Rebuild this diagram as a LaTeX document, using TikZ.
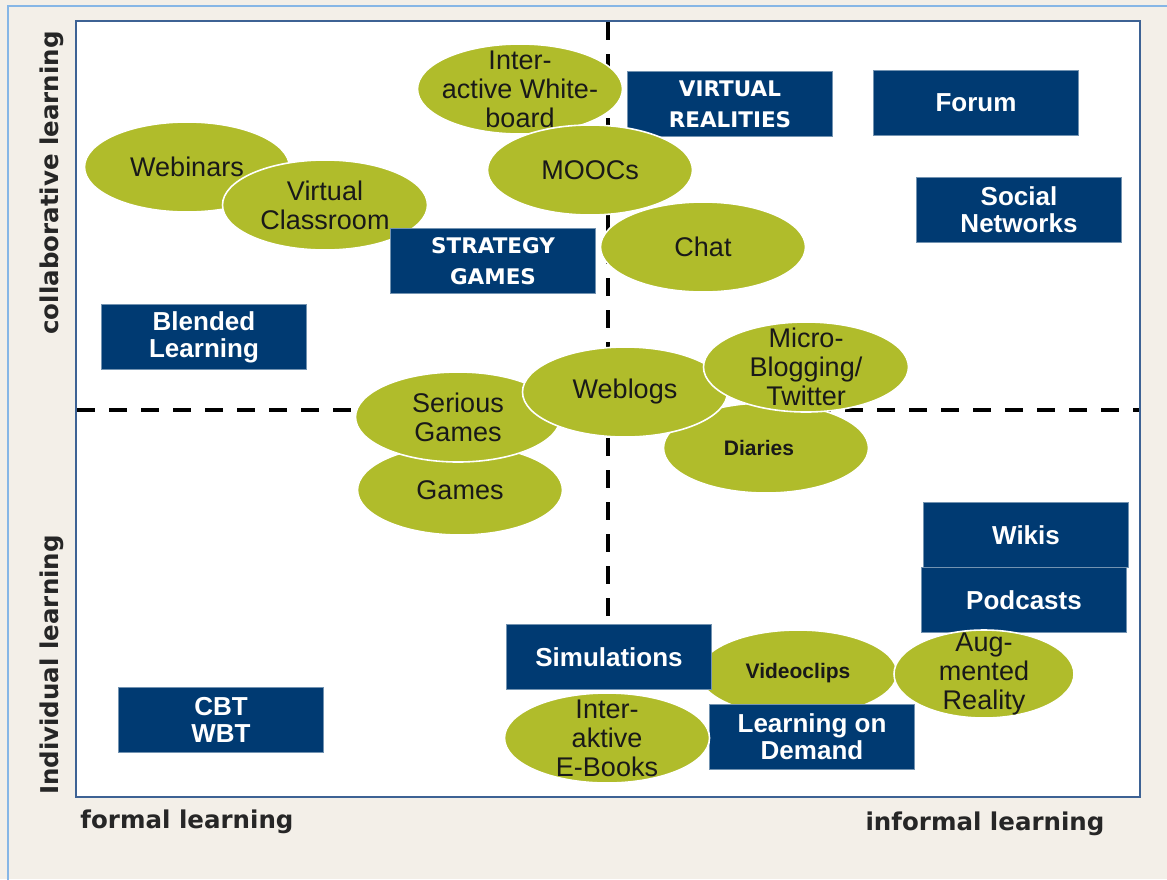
\documentclass[tikz,border=0pt]{standalone}
\usepackage{fontspec}
\setmainfont{Liberation Sans}
\newfontfamily\axisfont{DejaVu Sans}
\newfontfamily\capsfont{DejaVu Sans}
\usepackage{xcolor}
\usepackage{tikz}
\usetikzlibrary{shapes.geometric}

\definecolor{paper}{HTML}{F3EFE8}
\definecolor{rimblue}{HTML}{86B6E6}
\definecolor{framblue}{HTML}{3D6294}
\definecolor{navy}{HTML}{003A72}
\definecolor{olive}{HTML}{B0BC2B}

\tikzset{
	tool/.style={
		ellipse,
		fill=olive,
		draw=white,
		line width=1.6pt,
		minimum width=205pt,
		minimum height=90pt,
		inner sep=0pt,
		align=center,
		text=black!90,
		font=\fontsize{27}{29}\selectfont
	},
	tall/.style={
		inner xsep=-12pt,
		inner ysep=-16pt
	},
	medium/.style={
		rectangle,
		fill=navy,
		draw=navy!55!white,
		line width=0.8pt,
		minimum width=205pt,
		minimum height=65pt,
		inner sep=0pt,
		align=center,
		text=white,
		font=\bfseries\fontsize{26}{27}\selectfont
	},
	capsmedium/.style={
		medium,
		font=\capsfont\bfseries\fontsize{21.5}{31}\selectfont
	},
	axislabel/.style={
		font=\axisfont\bfseries\fontsize{24.5}{28}\selectfont,
		text=black!85
	},
	quadrant/.style={
		black,
		line width=3.5pt,
		dash pattern=on 18pt off 14pt
	}
}

\begin{document}
\begin{tikzpicture}[x=1pt,y=-1pt]
		
		% sheet and frames
		\useasboundingbox (0,0) rectangle (1167,879);
		\fill[paper] (0,0) rectangle (1167,879);
		\draw[rimblue,line width=2pt] (8,895) |- (1190,6);
		\draw[framblue,line width=2.5pt,fill=white] (76,21) rectangle (1140,797);
		
		% quadrant axes
		\coordinate (L) at (77,410);
		\coordinate (R) at (1139,410);
		\coordinate (T) at (608,22);
		\coordinate (B) at (608,625);
		\draw[quadrant] (L) -- (R);
		\draw[quadrant] (T) -- (B);
		
		% axis labels
		\node[axislabel,rotate=90] (collab) at (52,183) {collaborative learning};
		\node[axislabel,rotate=90] (indiv) at (52,665) {Individual learning};
		\node[axislabel] (formal) at (187,822) {formal learning};
		\node[axislabel] (informal) at (985,824) {informal learning};
		
		% upper left
		\node[tool] (web) at (187,167) {Webinars};
		\node[tool] (vc) at (325,205) {Virtual\\Classroom};
		\node[capsmedium] (sg) at (493,261) {STRATEGY\\GAMES};
		\node[medium] (bl) at (204,337) {Blended\\Learning};
		
		% upper middle
		\node[tool,tall] (iwb) at (520,89) {Inter-\\active White-\\board};
		\node[tool] (chat) at (703,247) {Chat};
		\node[capsmedium] (vr) at (730,104) {VIRTUAL\\REALITIES};
		\node[tool] (mooc) at (590,170) {MOOCs};
		
		% upper right
		\node[medium] (forum) at (976,103) {Forum};
		\node[medium] (sn) at (1019,210) {Social\\Networks};
		
		% around the centre
		\node[tool] (games) at (460,490) {Games};
		\node[tool] (serious) at (458,417) {Serious\\Games};
		\node[tool] (diary) at (766,448) {\bfseries\fontsize{21}{23}\selectfont Diaries\hspace*{14pt}};
		\node[tool] (blog) at (625,392) {Weblogs};
		\node[tool,tall] (micro) at (806,367) {Micro-\\Blogging/\\Twitter};
		
		% lower right
		\node[medium] (wiki) at (1026,535) {Wikis};
		\node[medium] (pod) at (1024,600) {Podcasts};
		\node[tool,minimum width=198pt,minimum height=86pt] (clip) at (798,673)
		{\bfseries\fontsize{21}{23}\selectfont Videoclips};
		\node[medium] (sim) at (609,657) {Simulations};
		\node[medium] (lod) at (812,737) {Learning on\\Demand};
		\node[tool,tall,minimum width=180pt,minimum height=88pt] (ar) at (984,674)
		{Aug-\\mented\\Reality};
		\node[tool,tall] (ebook) at (607,738) {Inter-\\aktive\\E-Books};
		
		% lower left
		\node[medium] (cbt) at (221,720) {CBT\\WBT};
		
	\end{tikzpicture}
\end{document}
